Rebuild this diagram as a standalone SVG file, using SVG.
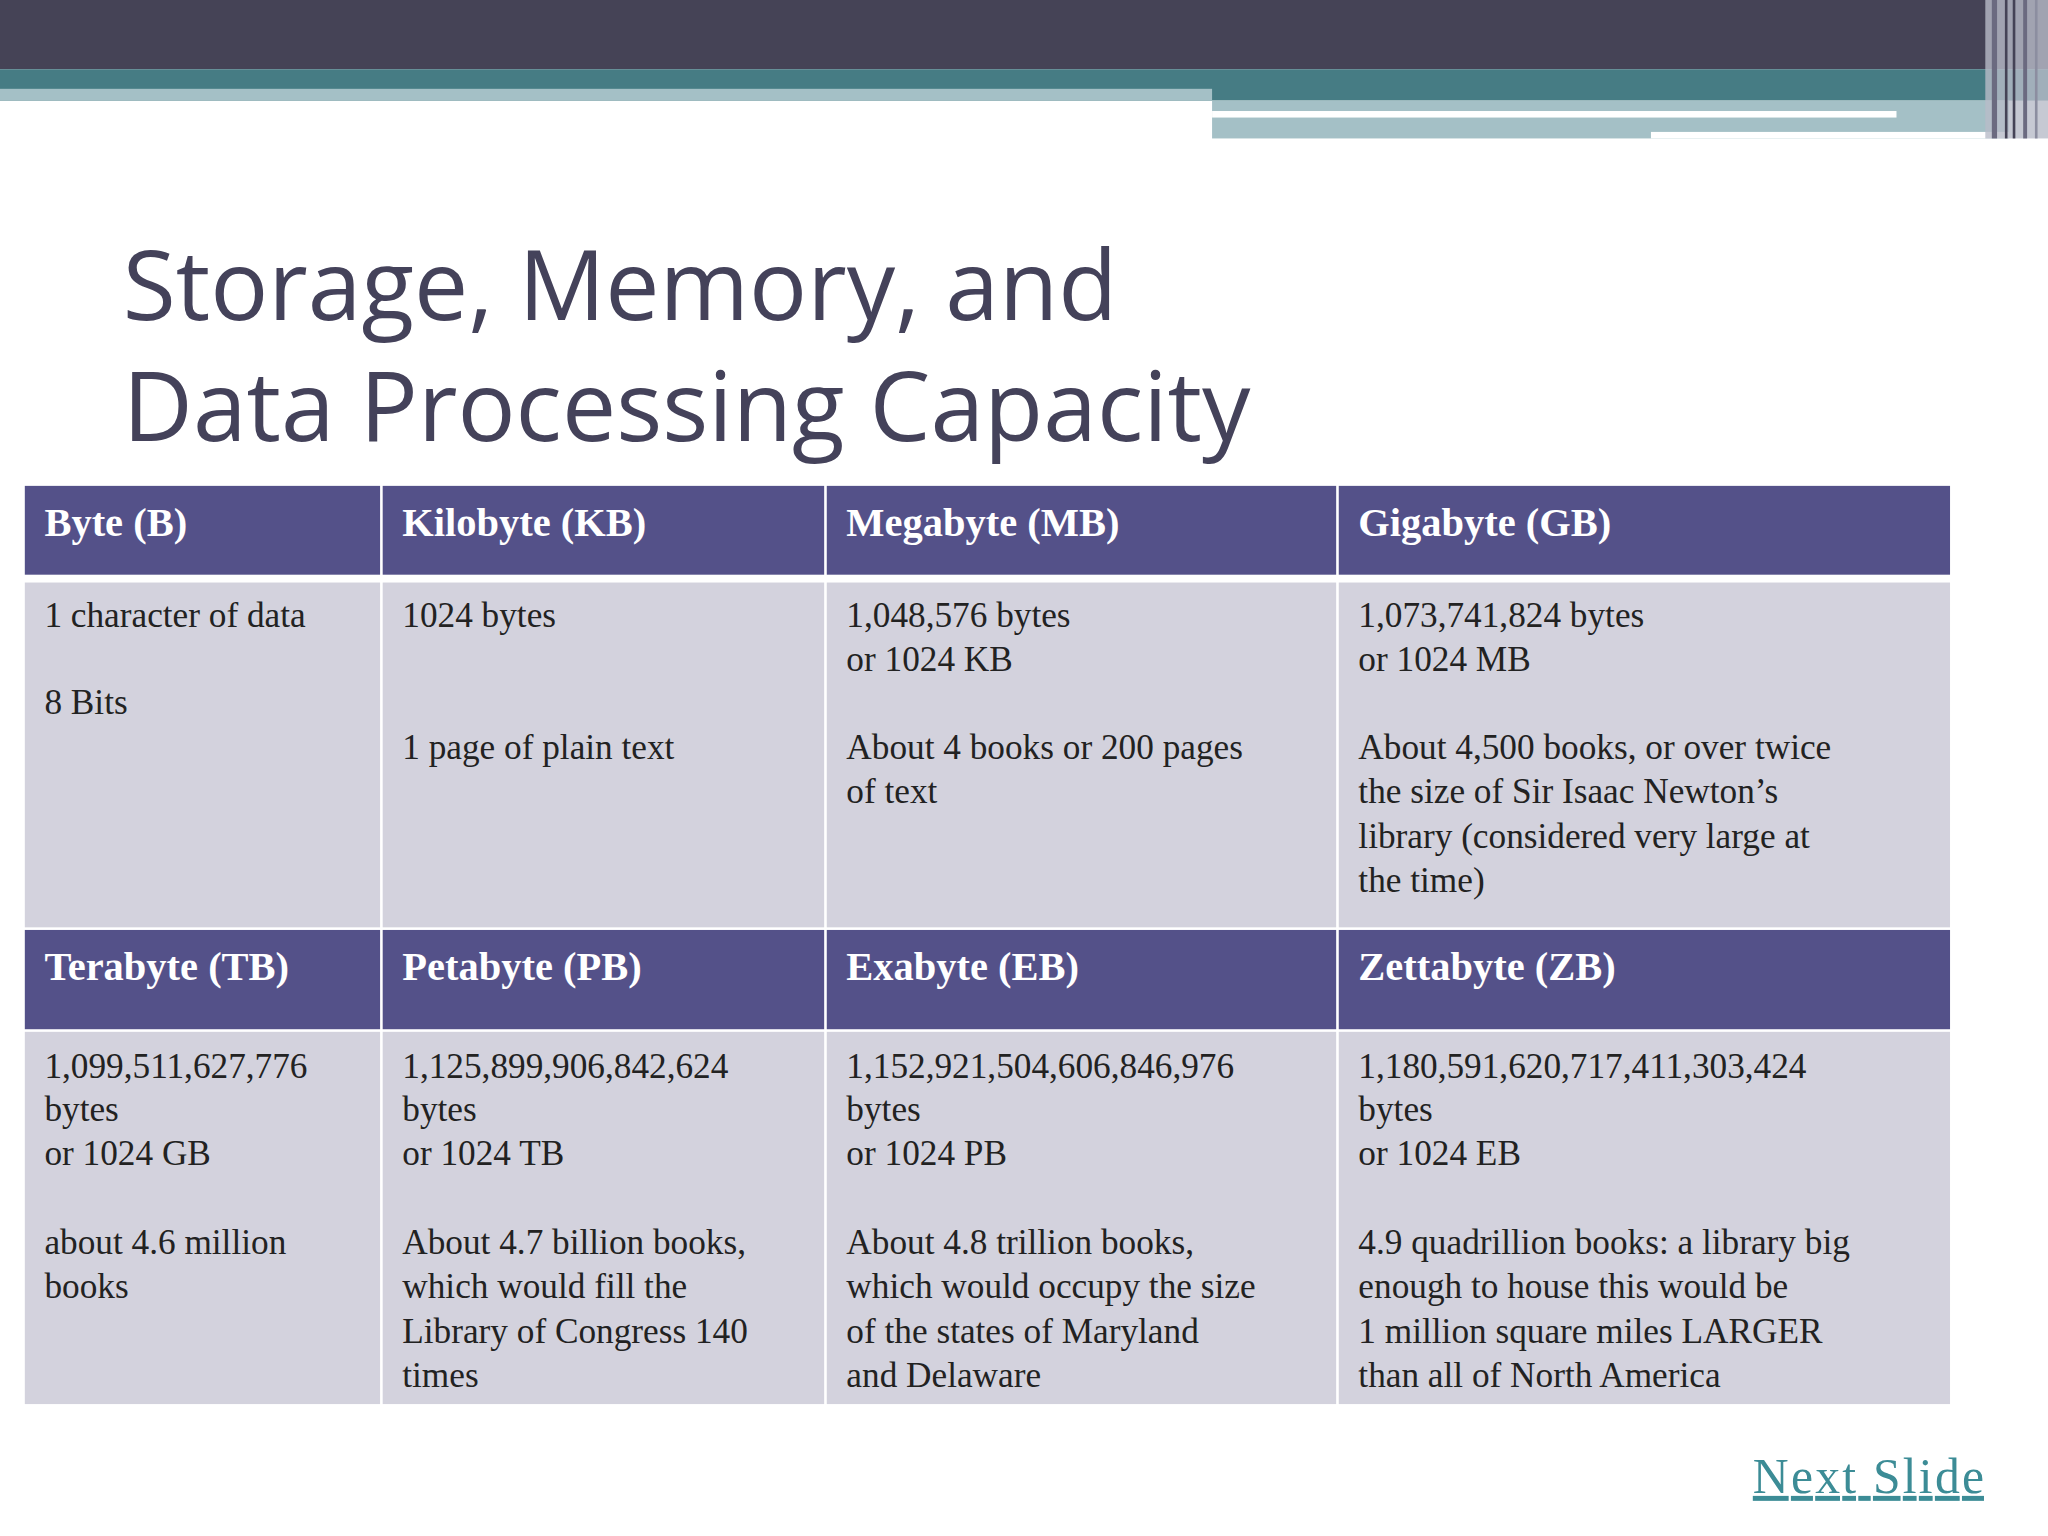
<svg xmlns="http://www.w3.org/2000/svg" width="2048" height="1536" viewBox="0 0 2048 1536">
<style>
.h{fill:#545189}.b{fill:#d3d2dd}
.ht{font-family:"Liberation Serif",serif;font-weight:bold;font-size:31px;fill:#fff}
.bt{font-family:"Liberation Serif",serif;font-size:27px;fill:#222}
</style>
<rect width="2048" height="1536" fill="#fff"/>
<g transform="scale(1.30612)">
<g id="header">
<rect x="0" y="0" width="1568" height="53" fill="#454356"/>
<rect x="0" y="53" width="1568" height="24" fill="#467c84"/>
<rect x="0" y="68" width="928" height="9" fill="#a4c0c6"/>
<rect x="928" y="77" width="610" height="29" fill="#a4c0c6"/>
<rect x="928" y="85" width="524" height="5" fill="#fff"/>
<rect x="1264" y="101" width="274" height="5" fill="#fff"/>
<rect x="1520" y="0" width="48" height="106" fill="#b8bcc8" opacity="0.8"/>
<rect x="1525" y="0" width="4" height="106" fill="#6b6a80"/>
<rect x="1535" y="0" width="2" height="106" fill="#454356"/>
<rect x="1541" y="0" width="2" height="106" fill="#454356"/>
<rect x="1549" y="0" width="3" height="106" fill="#6b6a80"/>
<rect x="1558" y="0" width="2" height="106" fill="#8c8ea0"/>
</g>
<g id="title" font-family="'Open Sans','DejaVu Sans',sans-serif" font-size="74" fill="#44425a">
<text x="94" y="245">Storage, Memory, and</text>
<text x="94" y="338">Data Processing Capacity</text>
</g>
<g id="table">
<rect x="19" y="372" width="1474" height="703" fill="#fff"/>
<rect class="h" x="19" y="372" width="272" height="68"/><rect class="h" x="293" y="372" width="338" height="68"/><rect class="h" x="633" y="372" width="390" height="68"/><rect class="h" x="1025" y="372" width="468" height="68"/>
<rect class="b" x="19" y="446" width="272" height="264"/><rect class="b" x="293" y="446" width="338" height="264"/><rect class="b" x="633" y="446" width="390" height="264"/><rect class="b" x="1025" y="446" width="468" height="264"/>
<rect class="h" x="19" y="712" width="272" height="76"/><rect class="h" x="293" y="712" width="338" height="76"/><rect class="h" x="633" y="712" width="390" height="76"/><rect class="h" x="1025" y="712" width="468" height="76"/>
<rect class="b" x="19" y="790" width="272" height="285"/><rect class="b" x="293" y="790" width="338" height="285"/><rect class="b" x="633" y="790" width="390" height="285"/><rect class="b" x="1025" y="790" width="468" height="285"/>
<text class="ht" x="34" y="410">Byte (B)</text><text class="ht" x="308" y="410">Kilobyte (KB)</text><text class="ht" x="648" y="410">Megabyte (MB)</text><text class="ht" x="1040" y="410">Gigabyte (GB)</text>
<text class="ht" x="34" y="750">Terabyte (TB)</text><text class="ht" x="308" y="750">Petabyte (PB)</text><text class="ht" x="648" y="750">Exabyte (EB)</text><text class="ht" x="1040" y="750">Zettabyte (ZB)</text>
<text class="bt"><tspan x="34" y="480">1 character of data</tspan><tspan x="34" y="547">8 Bits</tspan></text>
<text class="bt"><tspan x="308" y="480">1024 bytes</tspan><tspan x="308" y="581">1 page of plain text</tspan></text>
<text class="bt"><tspan x="648" y="480">1,048,576  bytes</tspan><tspan x="648" y="514">or 1024 KB</tspan><tspan x="648" y="581">About 4 books or 200 pages</tspan><tspan x="648" y="615">of text</tspan></text>
<text class="bt"><tspan x="1040" y="480">1,073,741,824 bytes</tspan><tspan x="1040" y="514">or 1024 MB</tspan><tspan x="1040" y="581">About 4,500 books, or over twice</tspan><tspan x="1040" y="615">the size of Sir Isaac Newton’s</tspan><tspan x="1040" y="649">library (considered very large at</tspan><tspan x="1040" y="683">the time)</tspan></text>
<text class="bt"><tspan x="34" y="825">1,099,511,627,776</tspan><tspan x="34" y="858">bytes</tspan><tspan x="34" y="892">or 1024 GB</tspan><tspan x="34" y="960">about 4.6 million</tspan><tspan x="34" y="994">books</tspan></text>
<text class="bt"><tspan x="308" y="825">1,125,899,906,842,624</tspan><tspan x="308" y="858">bytes</tspan><tspan x="308" y="892">or 1024 TB</tspan><tspan x="308" y="960">About 4.7 billion books,</tspan><tspan x="308" y="994">which would fill the</tspan><tspan x="308" y="1028">Library of Congress 140</tspan><tspan x="308" y="1062">times</tspan></text>
<text class="bt"><tspan x="648" y="825">1,152,921,504,606,846,976</tspan><tspan x="648" y="858">bytes</tspan><tspan x="648" y="892">or 1024 PB</tspan><tspan x="648" y="960">About 4.8 trillion books,</tspan><tspan x="648" y="994">which would occupy the size</tspan><tspan x="648" y="1028">of the states of Maryland</tspan><tspan x="648" y="1062">and Delaware</tspan></text>
<text class="bt"><tspan x="1040" y="825">1,180,591,620,717,411,303,424</tspan><tspan x="1040" y="858">bytes</tspan><tspan x="1040" y="892">or 1024 EB</tspan><tspan x="1040" y="960">4.9 quadrillion books: a library big</tspan><tspan x="1040" y="994">enough to house this would be</tspan><tspan x="1040" y="1028">1 million square miles LARGER</tspan><tspan x="1040" y="1062">than all of North America</tspan></text>
</g>
<g id="link">
<text x="1342" y="1143" font-family="'Liberation Serif',serif" font-size="38" fill="#3c8c96" text-decoration="underline" textLength="177">Next Slide</text>
</g>
</g>
</svg>
